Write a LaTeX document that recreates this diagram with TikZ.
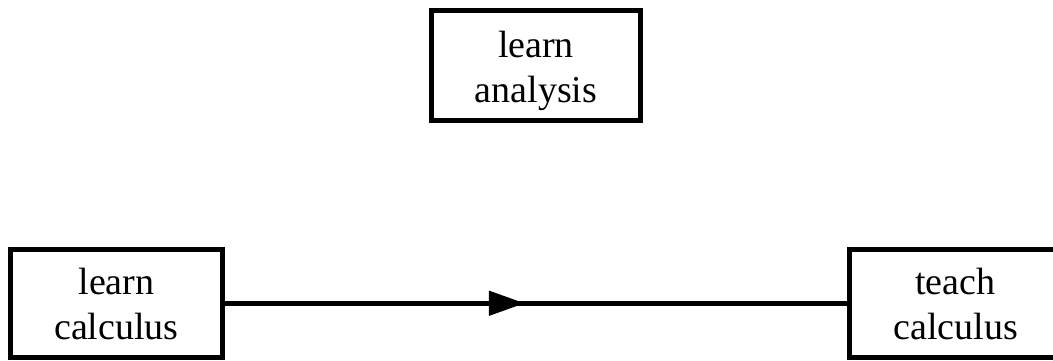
\documentclass[tikz,border=0pt]{standalone}
\usepackage{fontspec}
\setmainfont{Liberation Serif}
\usetikzlibrary{arrows.meta,decorations.markings}
\begin{document}
\begin{tikzpicture}[x=1pt,y=-1pt,
  task/.style={draw,line width=5pt,inner sep=0pt,align=center,
    text height=73pt,text depth=0pt,
    font=\fontsize{38}{45}\selectfont},
  flow/.style={line width=5pt,postaction={decorate},
    decoration={markings,mark=at position 0.482 with
      {\arrow{Triangle[length=36pt,width=24pt]}}}}]
\useasboundingbox (0,0) rectangle (1053,360);
\node[task,minimum width=209pt,minimum height=110pt] (analysis) at (536,65.5) {learn\\analysis};
\node[task,minimum width=212pt,minimum height=107.5pt] (learncalc) at (116.5,303.25) {learn\\calculus};
\node[task,minimum width=212pt,minimum height=107.5pt] (teachcalc) at (955.5,303.25) {teach\\calculus};
\draw[flow] (learncalc.east) -- (teachcalc.west);
\end{tikzpicture}
\end{document}
